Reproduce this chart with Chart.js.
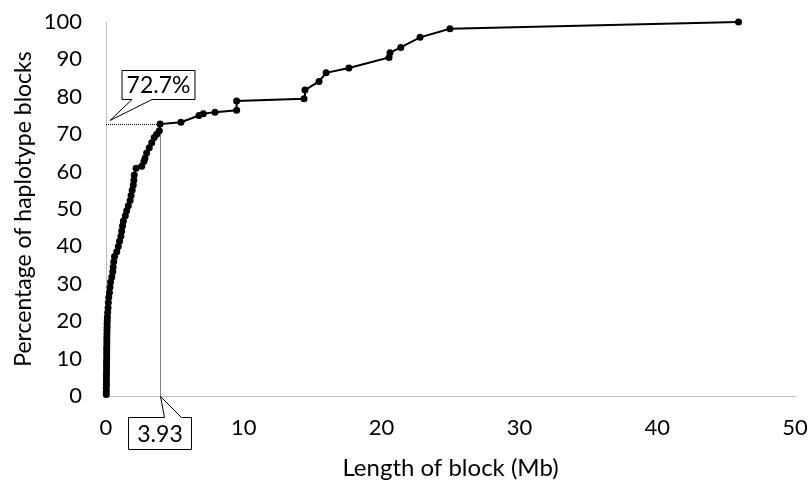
<!DOCTYPE html>
<html>
<head>
<meta charset="utf-8">
<script src="https://cdn.jsdelivr.net/npm/chart.js@4.4.0/dist/chart.umd.min.js"></script>
<style>
  body { margin: 0; background: #fff; }
  #wrap { width: 810px; height: 481px; }
</style>
</head>
<body>
<div id="wrap"><canvas id="blockChart"></canvas></div>
<script>
// Block lengths (Mb) and cumulative percentage of haplotype blocks
const blockLength = [
  0.02, 0.02, 0.02, 0.03, 0.03, 0.03, 0.03, 0.04, 0.04, 0.04,
  0.04, 0.05, 0.05, 0.05, 0.05, 0.06, 0.06, 0.06, 0.07, 0.07,
  0.08, 0.08, 0.09, 0.1, 0.12, 0.15, 0.17, 0.2,
  0.25, 0.29, 0.33, 0.42, 0.49, 0.52, 0.56, 0.62, 0.78, 0.89,
  0.98, 1.08, 1.14, 1.2, 1.26, 1.4, 1.5, 1.62, 1.75, 1.82,
  1.9, 1.98, 2.02, 2.05, 2.18, 2.59, 2.75, 2.83, 2.95, 3.14,
  3.32, 3.5, 3.68, 3.87, 3.93, 5.44, 6.75, 7.06, 7.91, 9.48,
  9.48, 14.37, 14.44, 15.46, 15.97, 17.63, 20.54, 20.61, 21.39, 22.79,
  24.96, 45.9
];
const cumPercent = [
  0.4, 1.3, 2.2, 3.1, 4.0, 4.9, 5.8, 6.7, 7.6, 8.5,
  9.4, 10.3, 11.2, 12.1, 13.0, 13.9, 14.8, 15.7, 16.6, 17.5,
  18.4, 19.3, 20.2, 21.1, 22.3, 23.6, 25.0, 26.4,
  27.7, 29.1, 30.5, 31.8, 33.2, 34.5, 35.9, 37.3, 38.6, 40.0,
  41.4, 42.7, 44.1, 45.5, 46.8, 48.2, 49.5, 50.9, 52.3, 53.6,
  55.0, 56.4, 57.7, 59.1, 60.9, 61.4, 62.7, 63.6, 65.0, 66.4,
  67.7, 69.1, 70.0, 70.9, 72.7, 73.2, 75.0, 75.5, 75.9, 76.4,
  78.9, 79.5, 81.8, 84.1, 86.4, 87.7, 90.5, 91.8, 93.2, 95.9,
  98.2, 100
];

// highlighted point
const markX = 3.93;
const markY = 72.7;
const markXLabel = '3.93';
const markYLabel = '72.7%';

const fontName = 'Lato, "Open Sans", sans-serif';

function drawCallout(ctx, box, tip, base1, base2, tailOnTop, text) {
  const L = box.left, T = box.top, R = box.left + box.w, B = box.top + box.h;
  ctx.beginPath();
  if (tailOnTop) {
    ctx.moveTo(L, T);
    ctx.lineTo(base1, T);
    ctx.lineTo(tip.x, tip.y);
    ctx.lineTo(base2, T);
    ctx.lineTo(R, T);
    ctx.lineTo(R, B);
    ctx.lineTo(L, B);
  } else {
    ctx.moveTo(L, T);
    ctx.lineTo(R, T);
    ctx.lineTo(R, B);
    ctx.lineTo(base2, B);
    ctx.lineTo(tip.x, tip.y);
    ctx.lineTo(base1, B);
    ctx.lineTo(L, B);
  }
  ctx.closePath();
  ctx.fillStyle = '#fff';
  ctx.fill();
  ctx.strokeStyle = '#000';
  ctx.lineWidth = 1;
  ctx.stroke();
  ctx.fillStyle = '#000';
  ctx.font = '23px ' + fontName;
  ctx.textAlign = 'center';
  ctx.textBaseline = 'middle';
  ctx.fillText(text, (L + R) / 2, (T + B) / 2 + 1);
}

const calloutPlugin = {
  id: 'callouts',
  beforeDatasetsDraw(chart) {
    const { ctx, chartArea, scales } = chart;
    const px = Math.round(scales.x.getPixelForValue(markX)) + 0.5;
    const py = Math.round(scales.y.getPixelForValue(markY)) + 0.5;
    ctx.save();
    ctx.strokeStyle = '#000';
    ctx.lineWidth = 1;
    ctx.setLineDash([1, 1]);
    ctx.beginPath();
    ctx.moveTo(chartArea.left, py);
    ctx.lineTo(px, py);
    ctx.moveTo(px, py);
    ctx.lineTo(px, chartArea.bottom);
    ctx.stroke();
    ctx.restore();
  },
  afterDraw(chart) {
    const { ctx, chartArea, scales } = chart;
    const px = Math.round(scales.x.getPixelForValue(markX)) + 0.5;
    const py = Math.round(scales.y.getPixelForValue(markY)) + 0.5;
    const left = chartArea.left;
    const bottom = Math.round(chartArea.bottom) + 0.5;
    ctx.save();
    // 72.7% label, pointing at the y axis
    drawCallout(ctx,
      { left: left + 16, top: py - 54, w: 73, h: 29 },
      { x: left + 4, y: py - 4 },
      left + 26, left + 46, false, markYLabel);
    // 3.93 label, pointing at the x axis
    drawCallout(ctx,
      { left: px - 32, top: bottom + 21, w: 63, h: 32 },
      { x: px, y: bottom },
      px + 4, px + 21, true, markXLabel);
    ctx.restore();
  }
};

const points = blockLength.map((x, i) => ({ x: x, y: cumPercent[i] }));

const ctx = document.getElementById('blockChart').getContext('2d');
new Chart(ctx, {
  type: 'scatter',
  data: {
    datasets: [
      {
        data: points,
        showLine: true,
        borderColor: '#000',
        backgroundColor: '#000',
        borderWidth: 2,
        pointRadius: 3.5,
        pointBorderWidth: 0,
        pointHoverRadius: 3.5,
        clip: false,
      },
    ],
  },
  options: {
    responsive: true,
    maintainAspectRatio: false,
    animation: false,
    layout: { padding: { top: 22, right: 15, left: 0, bottom: 0 } },
    plugins: {
      legend: { display: false },
      tooltip: { enabled: false },
    },
    scales: {
      x: {
        type: 'linear',
        min: 0,
        max: 50,
        grid: { display: false, drawTicks: false },
        border: { display: true, color: '#bfbfbf', width: 1 },
        ticks: {
          stepSize: 10,
          padding: 19,
          color: '#000',
          font: { family: fontName, size: 22 },
          maxRotation: 0,
        },
        title: {
          display: true,
          text: 'Length of block (Mb)',
          color: '#000',
          font: { family: fontName, size: 24 },
          padding: { top: 0, bottom: -2 },
        },
        afterFit(scale) {
          scale.height = 85;
          scale.paddingLeft = 0;
          scale.paddingRight = 0;
        },
      },
      y: {
        min: 0,
        max: 100,
        grid: { display: false, drawTicks: false },
        border: { display: true, color: '#bfbfbf', width: 1 },
        ticks: {
          stepSize: 10,
          padding: 24,
          color: '#000',
          font: { family: fontName, size: 22 },
        },
        title: {
          display: true,
          text: 'Percentage of haplotype blocks',
          color: '#000',
          font: { family: fontName, size: 23 },
          padding: { top: 10, bottom: 0 },
        },
        afterFit(scale) {
          scale.width = 106;
          scale.paddingTop = 0;
          scale.paddingBottom = 0;
        },
      },
    },
  },
  plugins: [calloutPlugin],
});
</script>
</body>
</html>
